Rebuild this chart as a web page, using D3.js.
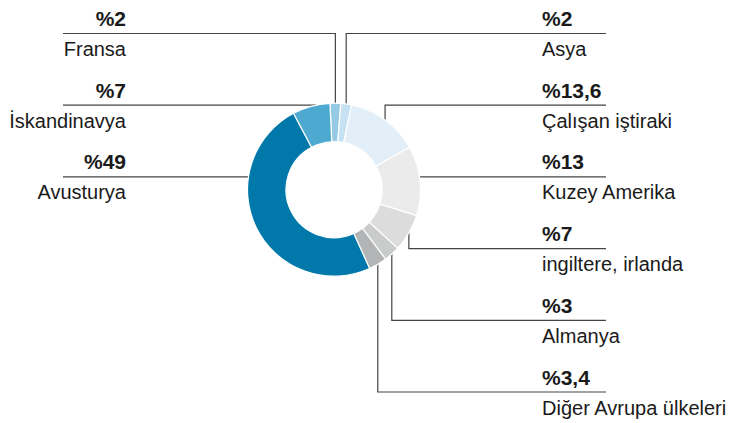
<!DOCTYPE html>
<html>
<head>
<meta charset="utf-8">
<script src="https://cdn.jsdelivr.net/npm/d3@7"></script>
<style>
  body { margin: 0; background: #fff; }
  svg text { font-family: "Liberation Sans", Arial, sans-serif; fill: #1a1a1a; }
  .val { font-weight: bold; font-size: 21px; }
  .name { font-size: 20px; }
</style>
</head>
<body>
<div id="chart"></div>
<script>
"use strict"

// slices in clockwise order starting from the top
let names = ["Fransa", "Asya", "Çalışan iştiraki", "Kuzey Amerika", "ingiltere, irlanda", "Almanya", "Diğer Avrupa ülkeleri", "Avusturya", "İskandinavya"];
let values = [2, 2, 13.6, 13, 7, 3, 3.4, 49, 7];
let valueLabels = ["%2", "%2", "%13,6", "%13", "%7", "%3", "%3,4", "%49", "%7"];
let colors = ["#96c9e3", "#c6e1f1", "#e2eff8", "#ebebeb", "#dcdcdc", "#cacbcb", "#b3b4b5", "#0079aa", "#4da9d0"];
// label placement: side, row, how the leader meets the ring
let sides = ["left", "right", "right", "right", "right", "right", "right", "left", "left"];
let rows = [0, 0, 1, 2, 3, 4, 5, 2, 1];
let leaders = ["v", "v", "v", "h", "v", "v", "v", "h", "h"];

let width = 729, height = 423;
let cx = 334, cy = 189.7, outerR = 86.5, innerR = 48;
let startAngle = -0.047;

let svg = d3.select("#chart").append("svg")
    .attr("width", width)
    .attr("height", height);

let rowY = d3.scaleLinear().domain([0, 5]).range([33.5, 392]);

let pie = d3.pie().sort(null).value(d => d)
    .startAngle(startAngle).endAngle(startAngle + 2 * Math.PI);
let arcs = pie(values);
let arc = d3.arc().innerRadius(innerR).outerRadius(outerR);

let leftText = 126, leftLine = 63, rightText = 542, rightLine = 606;

let lines = svg.append("g").attr("stroke", "#444").attr("stroke-width", 1.2).attr("fill", "none");
let labels = svg.append("g");

arcs.forEach((a, i) => {
    let y = rowY(rows[i]);
    let mid = (a.startAngle + a.endAngle) / 2;
    let pts;
    if (leaders[i] === "h") {
        let dy = y - cy;
        let dx = Math.sqrt(outerR * outerR - dy * dy) - 0.5;
        let ex = sides[i] === "left" ? cx - dx : cx + dx;
        pts = sides[i] === "left" ? [[leftLine, y], [ex, y]] : [[ex, y], [rightLine, y]];
    } else {
        let px = cx + outerR * Math.sin(mid);
        let dx = px - cx;
        let edge = Math.sqrt(outerR * outerR - dx * dx) - 0.5;
        let py = y < cy ? cy - edge : cy + edge;
        pts = sides[i] === "left"
            ? [[leftLine, y], [px, y], [px, py]]
            : [[px, py], [px, y], [rightLine, y]];
    }
    lines.append("path").attr("d", d3.line()(pts));

    let tx = sides[i] === "left" ? leftText : rightText;
    let anchor = sides[i] === "left" ? "end" : "start";
    labels.append("text").attr("class", "val")
        .attr("x", tx).attr("y", y - 7.5)
        .attr("text-anchor", anchor)
        .text(valueLabels[i]);
    labels.append("text").attr("class", "name")
        .attr("x", tx).attr("y", y + 22.5)
        .attr("text-anchor", anchor)
        .text(names[i]);
});

svg.append("g")
    .attr("transform", `translate(${cx},${cy})`)
    .selectAll("path")
    .data(arcs)
    .enter().append("path")
        .attr("d", arc)
        .attr("fill", (d, i) => colors[i])
        .attr("stroke", "#fff")
        .attr("stroke-width", 1.2);
</script>
</body>
</html>
